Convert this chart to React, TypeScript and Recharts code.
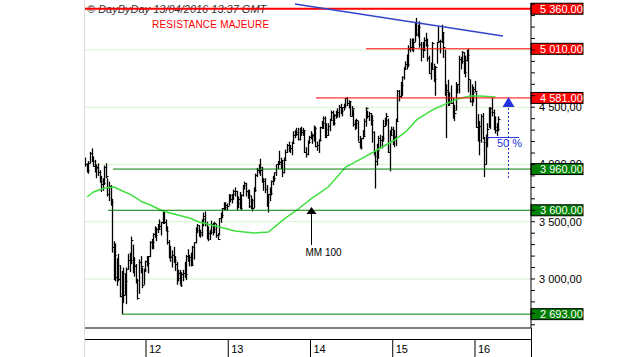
import React from 'react'
import {
  ComposedChart, Bar, Line, XAxis, YAxis, CartesianGrid, ReferenceLine,
} from 'recharts'

// weekly CAC 40 bars, one per week, the first one closing on Fri 8 Apr 2011
const firstWeekClose = Date.UTC(2011, 3, 8)

const highs = [
  4060, 4010, 4030, 4110, 4140, 4070, 4040, 4000, 4010, 3950, 3900, 3880, 3990, 4010, 3880, 3850, 3820, 3700, 3330, 3310,
  3180, 3220, 3120, 3070, 3100, 3050, 3100, 3220, 3230, 3370, 3300, 3190, 3130, 3000, 3170, 3200, 3100, 3090, 3160,
  3200, 3200, 3330, 3350, 3400, 3460, 3450, 3480, 3520, 3500, 3600, 3590, 3520, 3460, 3340, 3290, 3250, 3280, 3200, 3150,
  3080, 3080, 3060, 3080, 3150, 3210, 3260, 3210, 3230, 3290, 3320, 3450, 3480, 3470, 3430, 3520, 3580, 3590, 3500, 3460,
  3430, 3510, 3490, 3500, 3480, 3400, 3530, 3580, 3620, 3670, 3670, 3660, 3740,
  3740, 3740, 3780, 3800, 3770, 3720, 3760, 3740, 3820, 3850, 3840, 3780, 3780, 3730, 3700, 3800, 3920, 3970, 4000, 4050,
  3980, 3880, 3880, 3820, 3740, 3800, 3860, 3900, 3930, 4000, 4030, 4120, 4060, 4040, 4060, 4130, 4180, 4200, 4170, 4200,
  4290, 4300, 4320, 4320, 4320, 4330, 4320, 4300, 4150, 4210, 4250, 4290,
  4270, 4340, 4330, 4200, 4220, 4330, 4380, 4420, 4420, 4360, 4360, 4400, 4470, 4470, 4440, 4470, 4490, 4520, 4530, 4500,
  4530, 4580, 4590, 4560, 4550, 4510, 4480, 4390, 4400, 4380, 4250, 4230, 4300, 4400, 4500, 4470, 4460, 4450, 4430, 4290,
  4120, 4180, 4250, 4260, 4250, 4390, 4410, 4450, 4400, 4300, 4330, 4330,
  4300, 4400, 4650, 4650, 4720, 4770, 4850, 4900, 4960, 5040, 5100, 5100, 5100, 5240, 5280, 5220, 5250, 5070, 5070, 5110,
  5150, 5100, 4950, 4890, 5070, 4880, 4860, 5070, 5200, 5090, 5220, 5150, 5000, 4700, 4740, 4630, 4690, 4580, 4520, 4720,
  4700, 4950, 4940, 4990, 4980, 4950, 5000, 5010, 4740, 4700, 4680, 4730,
  4630, 4440, 4380, 4440, 4450, 4240, 4260, 4360, 4500, 4500, 4580, 4480, 4420, 4360, 4420,
]

const lows = [
  3980, 3930, 3920, 4010, 4020, 3980, 3930, 3880, 3900, 3840, 3760, 3770, 3820, 3880, 3720, 3680, 3640, 3230, 2990, 2980,
  2940, 2980, 2840, 2693, 2790, 2860, 2780, 3080, 3060, 3130, 3050, 3020, 2960, 2820, 2870, 3050, 2920, 2950, 3060,
  3110, 3050, 3190, 3260, 3260, 3360, 3330, 3400, 3430, 3380, 3480, 3480, 3420, 3300, 3180, 3150, 3100, 3140, 3070, 2950,
  2980, 2950, 2930, 2980, 3010, 2990, 3150, 3110, 3110, 3120, 3170, 3310, 3400, 3370, 3360, 3370, 3460, 3460, 3350, 3330,
  3340, 3390, 3380, 3400, 3360, 3340, 3380, 3490, 3530, 3600, 3600, 3600, 3640,
  3670, 3660, 3690, 3720, 3600, 3620, 3610, 3600, 3720, 3780, 3720, 3700, 3620, 3610, 3590, 3620, 3760, 3890, 3920, 3900,
  3840, 3770, 3750, 3630, 3580, 3680, 3730, 3820, 3850, 3900, 3960, 4000, 3960, 3890, 3920, 4040, 4100, 4110, 4100, 4080,
  4180, 4230, 4250, 4210, 4210, 4250, 4250, 4100, 4060, 4080, 4180, 4220,
  4180, 4200, 4150, 4120, 4100, 4200, 4310, 4310, 4230, 4230, 4250, 4290, 4380, 4340, 4340, 4400, 4410, 4410, 4440, 4420,
  4470, 4490, 4510, 4490, 4420, 4420, 4330, 4300, 4310, 4200, 4140, 4130, 4220, 4250, 4330, 4400, 4380, 4340, 4190, 4080,
  3790, 3990, 4050, 4140, 4140, 4200, 4330, 4340, 4100, 3940, 4250, 4170,
  4150, 4160, 4370, 4550, 4580, 4600, 4740, 4830, 4830, 4850, 4980, 4990, 4980, 5070, 5120, 5110, 5020, 4900, 4930, 4990,
  5030, 4900, 4790, 4740, 4830, 4720, 4600, 4880, 5060, 4970, 5060, 4930, 4600, 4230, 4510, 4510, 4530, 4400, 4380, 4470,
  4620, 4620, 4830, 4880, 4790, 4760, 4900, 4630, 4540, 4510, 4540, 4630,
  4320, 4200, 4080, 4190, 4220, 3890, 4000, 4150, 4320, 4310, 4420, 4300, 4270, 4250, 4290,
]

const closes = [
  4000, 3950, 4010, 4100, 4030, 3990, 3970, 3980, 3930, 3860, 3830, 3840, 3980, 3900, 3740, 3810, 3670, 3280, 3210, 3020,
  3120, 3000, 2850, 3050, 2860, 2980, 3090, 3170, 3170, 3340, 3120, 3110, 2990, 2830, 3150, 3110, 2950, 3080, 3160,
  3140, 3200, 3320, 3320, 3390, 3380, 3440, 3440, 3460, 3500, 3590, 3500, 3420, 3320, 3200, 3190, 3210, 3170, 3130, 3010,
  3050, 2950, 3040, 3050, 3040, 3200, 3170, 3190, 3120, 3280, 3320, 3430, 3470, 3390, 3410, 3520, 3550, 3480, 3350, 3400,
  3410, 3480, 3440, 3490, 3380, 3350, 3530, 3560, 3620, 3630, 3650, 3640, 3730,
  3700, 3740, 3770, 3770, 3660, 3700, 3620, 3730, 3820, 3840, 3770, 3730, 3640, 3690, 3620, 3780, 3910, 3950, 3980, 3950,
  3870, 3860, 3790, 3670, 3740, 3750, 3860, 3880, 3930, 4000, 4000, 4020, 4040, 3930, 4040, 4110, 4170, 4140, 4140, 4190,
  4260, 4280, 4270, 4220, 4300, 4280, 4300, 4110, 4090, 4200, 4240, 4250,
  4260, 4320, 4160, 4170, 4210, 4330, 4360, 4410, 4310, 4260, 4340, 4390, 4460, 4360, 4430, 4440, 4460, 4500, 4470, 4500,
  4520, 4580, 4540, 4550, 4420, 4490, 4350, 4360, 4390, 4200, 4150, 4230, 4250, 4380, 4490, 4420, 4450, 4390, 4280, 4070,
  4030, 4130, 4230, 4210, 4230, 4340, 4390, 4420, 4110, 4260, 4310, 4250,
  4240, 4380, 4640, 4600, 4690, 4760, 4830, 4880, 4880, 5010, 5030, 5030, 5070, 5240, 5140, 5200, 5050, 5010, 5000, 5090,
  5040, 4930, 4800, 4830, 5060, 4750, 4850, 5070, 5080, 5080, 5160, 5030, 4630, 4650, 4540, 4550, 4540, 4480, 4450, 4660,
  4700, 4920, 4900, 4980, 4810, 4910, 4960, 4750, 4550, 4630, 4660, 4640,
  4330, 4210, 4340, 4420, 4200, 4000, 4230, 4310, 4460, 4490, 4460, 4330, 4300, 4310, 4400,
]

// MM 100, read at a few weeks along the curve
const maWeeks = [1, 5, 12, 18, 22, 29, 36, 41, 49, 56, 66, 72, 85, 95, 107, 116, 127, 135, 143, 154, 165, 176, 186, 195, 203, 210, 220, 227, 236, 244, 250, 260]
const maValues = [3716, 3760, 3795, 3803, 3777, 3734, 3672, 3646, 3594, 3568, 3533, 3498, 3454, 3419, 3402, 3410, 3533, 3611, 3699, 3803, 3978, 4057, 4135, 4205, 4284, 4389, 4476, 4520, 4572, 4598, 4598, 4590]

const yearTicks = [2012, 2013, 2014, 2015, 2016]
const yearLabels = ['12', '13', '14', '15', '16']
const priceTicks = [
  2600, 2700, 2800, 2900, 3000, 3100, 3200, 3300, 3400, 3500, 3600, 3700, 3800, 3900, 4000,
  4100, 4200, 4300, 4400, 4500, 4600, 4700, 4800, 4900, 5000, 5100, 5200, 5300, 5400,
]
const labelledPrices = [3000, 3500, 4000, 4500, 5000]

const resistances = [5360, 5010, 4581]
const resistanceFrom = [2011.246, 2014.675, 2014.067]
const supports = [3960, 3600, 2693]
const supportFrom = [2011.599, 2011.538, 2011.708]

const trendStart = { x: 2013.811, y: 5402 }
const trendEnd = { x: 2016.34, y: 5122 }
const halfLevel = 4235
const halfFrom = 2016.146
const halfTo = 2016.535
const targetAt = 2016.401
const targetLow = 3882
const targetHigh = 4590
const maArrowAt = 2014.006
const maArrowTail = 3297
const maArrowTip = 3629

const xDomain: [number, number] = [2011.246, 2016.681]
const yDomain: [number, number] = [2572, 5410]

function weekToYear(i: number) {
  const d = new Date(firstWeekClose + i * 7 * 86400000)
  const y = d.getUTCFullYear()
  const s = Date.UTC(y, 0, 1)
  const e = Date.UTC(y + 1, 0, 1)
  return y + (d.getTime() - s) / (e - s)
}

const data = closes.map((c, i) => {
  const k = maWeeks.indexOf(i)
  return {
    t: weekToYear(i),
    range: [lows[i], highs[i]],
    high: highs[i],
    low: lows[i],
    close: c,
    ma: k >= 0 ? maValues[k] : null,
  }
})

const axisFmt = (v: number) => `${Math.floor(v / 1000)} ${String(v % 1000).padStart(3, '0')},00`
const tagFmt = (v: number) => `${Math.floor(v / 1000)} ${String(v % 1000).padStart(3, '0')}.00`

const HlcBar = (props: any) => {
  const { x, y, width, height, payload } = props
  if (!payload || height == null) return null
  const cx = Math.round(x + width / 2) + 0.5
  const span = payload.high - payload.low || 1
  const cy = Math.round(y + ((payload.high - payload.close) / span) * height) + 0.5
  return (
    <g>
      <line x1={cx} x2={cx} y1={y} y2={y + height} stroke="#000" strokeWidth={1.3} />
      <line x1={cx} x2={cx + 2} y1={cy} y2={cy} stroke="#000" strokeWidth={1} />
    </g>
  )
}

// tick marks only; the labels are drawn as reference labels so the level tags can cover them
const PriceTick = (props: any) => {
  const { x, y } = props
  return <line x1={x} x2={x + 4} y1={y} y2={y} stroke="#000" />
}

const priceLabel = (v: number) => (p: any) => {
  const vb = p.viewBox
  if (!vb) return null
  return <text x={vb.x + vb.width + 8} y={vb.y + 4} fontSize={11} fill="#000">{axisFmt(v)}</text>
}

const YearTick = (props: any) => {
  const { x, payload } = props
  const label = yearLabels[yearTicks.indexOf(payload.value)]
  return (
    <g>
      <line x1={x} x2={x} y1={339} y2={357} stroke="#000" />
      <text x={x + 3} y={353} fontSize={11} fill="#000">{label}</text>
    </g>
  )
}

const levelTag = (text: string, fill: string) => (p: any) => {
  const vb = p.viewBox
  if (!vb) return null
  const right = vb.x + vb.width
  return (
    <g>
      <rect x={right} y={vb.y - 5.5} width={52} height={11} fill={fill} stroke="#000" strokeWidth={1} />
      <text x={right + 9} y={vb.y + 4} fill="#fff" fontSize={11}>{text}</text>
    </g>
  )
}

const halfTag = (p: any) => {
  const vb = p.viewBox
  if (!vb) return null
  return <text x={vb.x + 10} y={vb.y + 9} fill="#2233dd" fontSize={11}>50 %</text>
}

const arrow = (color: string, dashed: boolean, w: number, h: number, caption?: string) => (p: any) => {
  const { x1, y1, x2, y2 } = p
  if (x1 == null) return null
  const ax = Math.round(x2) + 0.5
  return (
    <g>
      <line x1={ax} x2={ax} y1={y1} y2={y2 + h} stroke={color} strokeWidth={1} strokeDasharray={dashed ? '2 2' : undefined} />
      <polygon points={`${ax},${y2} ${ax - w / 2},${y2 + h} ${ax + w / 2},${y2 + h}`} fill={color} />
      {caption && <text x={ax - 6} y={y1 + 11} fontSize={10} fill="#000">{caption}</text>}
    </g>
  )
}

export default function App() {
  return (
    <div style={{ position: 'absolute', left: 0, top: 0, width: 630, height: 357, background: '#fff', fontFamily: "Arial, 'Liberation Sans', sans-serif" }}>
      <svg width={630} height={357} style={{ position: 'absolute', left: 0, top: 0 }}>
        <text x={87} y={13} fontSize={11} fontStyle="italic" fill="#333">© DayByDay 13/04/2016 13:37 GMT</text>
        <text x={152} y={28} fontSize={10} letterSpacing={0.2} fill="#ff0000">RESISTANCE MAJEURE</text>
      </svg>
      <div style={{ position: 'absolute', left: 0, top: 0 }}>
        <ComposedChart width={630} height={357} data={data} margin={{ top: 3, right: 0, bottom: 0, left: 84 }}>
          <CartesianGrid vertical={false} horizontalValues={labelledPrices} stroke="#d6f3d0" />
          <XAxis
            type="number"
            dataKey="t"
            domain={xDomain}
            allowDataOverflow
            ticks={yearTicks}
            interval={0}
            tick={<YearTick />}
            tickLine={false}
            axisLine={{ stroke: '#000' }}
            height={29}
          />
          <YAxis
            orientation="right"
            type="number"
            domain={yDomain}
            allowDataOverflow
            ticks={priceTicks}
            interval={0}
            width={99}
            tickSize={0}
            tickMargin={0}
            tickLine={false}
            axisLine={{ stroke: '#000' }}
            tick={<PriceTick />}
          />
          <Bar dataKey="range" barSize={1} shape={<HlcBar />} isAnimationActive={false} />
          <Line dataKey="ma" connectNulls dot={false} stroke="#3ee03e" strokeWidth={1.5} isAnimationActive={false} />
          {labelledPrices.map((v) => (
            <ReferenceLine key={'p' + v} y={v} stroke="none" strokeOpacity={0} label={priceLabel(v)} />
          ))}
          {resistances.map((v, i) => (
            <ReferenceLine
              key={'r' + v}
              segment={[{ x: resistanceFrom[i], y: v }, { x: xDomain[1], y: v }]}
              stroke="#ff0000"
              strokeWidth={i === 0 ? 2 : 1}
              label={levelTag(tagFmt(v), '#ff0000')}
            />
          ))}
          {supports.map((v, i) => (
            <ReferenceLine
              key={'s' + v}
              segment={[{ x: supportFrom[i], y: v }, { x: xDomain[1], y: v }]}
              stroke="#007f00"
              strokeWidth={1}
              label={levelTag(tagFmt(v), '#007f00')}
            />
          ))}
          <ReferenceLine segment={[trendStart, trendEnd]} stroke="#3344cc" strokeWidth={1.5} />
          <ReferenceLine segment={[{ x: halfFrom, y: halfLevel }, { x: halfTo, y: halfLevel }]} stroke="#2233dd" label={halfTag} />
          <ReferenceLine
            segment={[{ x: targetAt, y: targetLow }, { x: targetAt, y: targetHigh }]}
            shape={arrow('#2233dd', true, 12, 10)}
          />
          <ReferenceLine
            segment={[{ x: maArrowAt, y: maArrowTail }, { x: maArrowAt, y: maArrowTip }]}
            shape={arrow('#000', false, 10, 7, 'MM 100')}
          />
        </ComposedChart>
      </div>
      <div style={{ position: 'absolute', left: 84, top: 0, width: 1, height: 357, background: '#dcdcdc' }} />
      <div style={{ position: 'absolute', left: 85, top: 339, width: 446, height: 1, background: '#000' }} />
      <div style={{ position: 'absolute', left: 531, top: 328, width: 1, height: 29, background: '#000' }} />
    </div>
  )
}
